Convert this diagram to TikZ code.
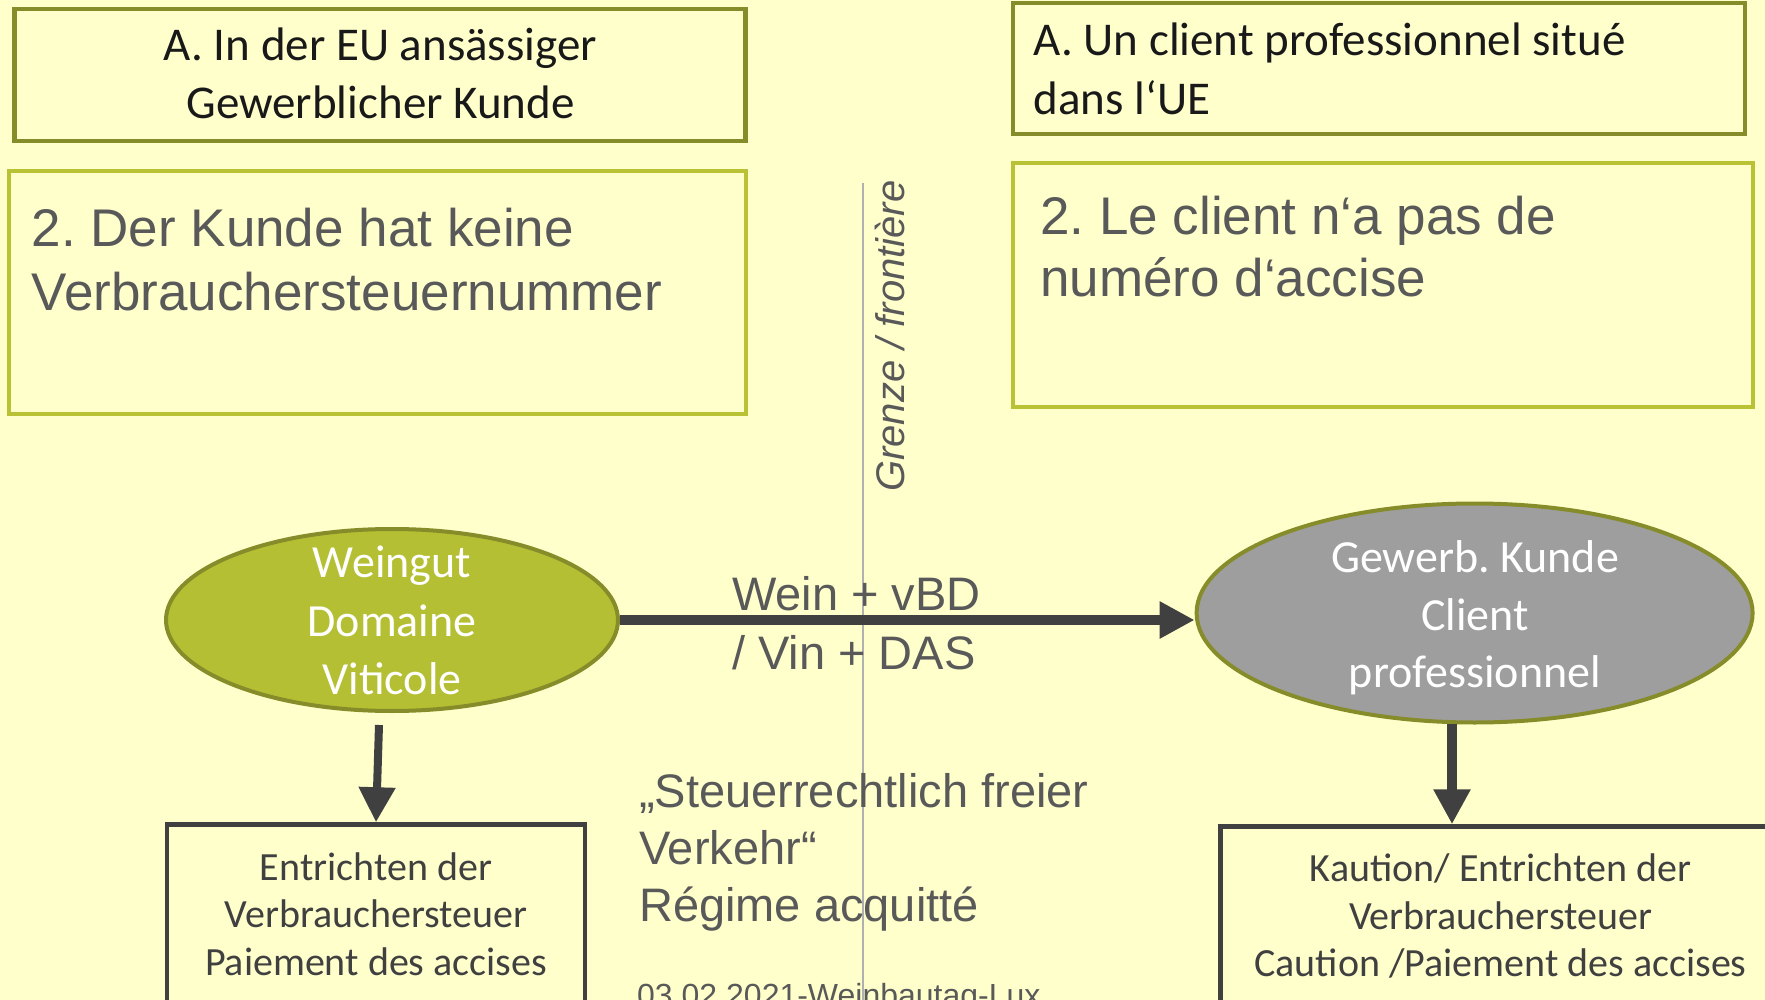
\documentclass[tikz,border=0pt]{standalone}
\usepackage{fontspec}
\setmainfont{Carlito}
\newfontfamily\arialf{Liberation Sans}
\usetikzlibrary{shapes.geometric,arrows.meta}
\definecolor{bg}{HTML}{FFFFCC}
\definecolor{olive}{HTML}{878C2A}
\definecolor{lime}{HTML}{B8C234}
\definecolor{limefill}{HTML}{B5BF33}
\definecolor{greyfill}{HTML}{9E9E9E}
\definecolor{dark}{HTML}{404040}
\definecolor{txtgrey}{HTML}{595959}
\definecolor{border}{HTML}{B0B0B0}
\frenchspacing
\begin{document}
\frenchspacing
\begin{tikzpicture}[x=1pt,y=-1pt,
  titlebox/.style={draw=olive,line width=4.5pt,rectangle,inner sep=0pt},
  notebox/.style={draw=lime,line width=4.5pt,rectangle,inner sep=0pt},
  paybox/.style={draw=dark,line width=4.5pt,rectangle,inner sep=0pt},
  ell/.style={ellipse,draw=olive,line width=4pt,inner sep=0pt},
  line/.style={inner sep=0pt,anchor=base},
  lline/.style={inner sep=0pt,anchor=base west},
  cal/.style={font=\frenchspacing\fontsize{47}{56}\selectfont,text=black!90},
  calw/.style={font=\fontsize{46}{56}\selectfont,text=white},
  calb/.style={font=\fontsize{40}{48}\selectfont,text=dark},
  ar/.style={font=\frenchspacing\arialf\fontsize{53}{64}\selectfont,text=txtgrey},
  arm/.style={font=\arialf\fontsize{47}{58}\selectfont,text=txtgrey},
  flow/.style={draw=dark,-{Triangle[length=35pt,width=35pt]}}
]
\useasboundingbox (0,0) rectangle (1765,1000);
\fill[bg] (0,0) rectangle (1765,1000);

% top boxes
\node[titlebox,minimum width=731pt,minimum height=132pt] (boxAL) at (380,75) {};
\node[notebox,minimum width=737pt,minimum height=243pt] (box2L) at (377.5,292.5) {};
\node[titlebox,minimum width=732pt,minimum height=131pt] (boxAR) at (1379,68.7) {};
\node[notebox,minimum width=740pt,minimum height=244pt] (box2R) at (1383,285) {};

\node[line,cal] (tAL1) at (380.5,61) {A. In der EU ansässiger};
\node[line,cal] (tAL2) at (380.5,119) {Gewerblicher Kunde};
\node[lline,cal] (tAR1) at (1033.5,56) {A. Un client professionnel situé};
\node[lline,cal] (tAR2) at (1033.5,115) {dans l‘UE};
\node[lline,ar] (t2L1) at (31.5,246.5) {2. Der Kunde hat keine};
\node[lline,ar] (t2L2) at (31.5,311) {Verbrauchersteuernummer};
\node[lline,ar] (t2R1) at (1040,235) {2. Le client n‘a pas de};
\node[lline,ar] (t2R2) at (1040,297) {numéro d‘accise};

% border line
\coordinate (gtop) at (863,183.5);
\coordinate (gbot) at (863,1000);
\draw[border,line width=1.5pt] (gtop) -- (gbot);
\node[inner sep=0pt,anchor=base west,rotate=90,font=\arialf\itshape\fontsize{40}{48}\selectfont,text=txtgrey] (grenze) at (904,492) {Grenze / frontière};

% ellipses
\node[ell,fill=limefill,minimum width=452pt,minimum height=182pt] (wg) at (392,620) {};
\node[ell,fill=greyfill,minimum width=556pt,minimum height=219pt] (kd) at (1474.6,613) {};
\node[line,calw] (wg1) at (392,577.5) {Weingut};
\node[line,calw] (wg2) at (392,636) {Domaine};
\node[line,calw] (wg3) at (392,694.5) {Viticole};
\node[line,calw] (kd1) at (1475,572) {Gewerb. Kunde};
\node[line,calw] (kd2) at (1475,630) {Client};
\node[line,calw] (kd3) at (1475,687) {professionnel};

% horizontal flow
\draw[flow,line width=10pt] (wg.east) -- (kd.west |- wg.east);
\node[lline,arm] (w1) at (732,610) {Wein + vBD};
\node[lline,arm] (w2) at (732,669) {/ Vin + DAS};

% bottom boxes
\node[paybox,minimum width=418pt,minimum height=215pt] (bl) at (376,932) {};
\node[paybox,minimum width=579pt,minimum height=213pt] (br) at (1510,933) {};
\node[line,calb] (bl1) at (376,880) {Entrichten der};
\node[line,calb] (bl2) at (376,927.5) {Verbrauchersteuer};
\node[line,calb] (bl3) at (376,975) {Paiement des accises};
\node[line,calb] (br1) at (1500.5,881.5) {Kaution/ Entrichten der};
\node[line,calb] (br2) at (1500.5,929) {Verbrauchersteuer};
\node[line,calb] (br3) at (1500.5,976) {Caution /Paiement des accises};

% down arrows
\coordinate (a1) at (379,725);
\coordinate (a2) at (1452,724);
\draw[flow,line width=8pt] (a1) -- (bl.north);
\draw[flow,line width=10pt] (a2) -- (a2 |- br.north);

% regime text
\node[lline,arm] (s1) at (639,807) {„Steuerrechtlich freier};
\node[lline,arm] (s2) at (639,864.5) {Verkehr“};
\node[lline,arm] (s3) at (639,921) {Régime acquitté};
\node[lline,font=\arialf\fontsize{32}{38}\selectfont,text=txtgrey] (foot) at (637,1006) {03.02.2021-Weinbautag-Lux};
\end{tikzpicture}
\end{document}
